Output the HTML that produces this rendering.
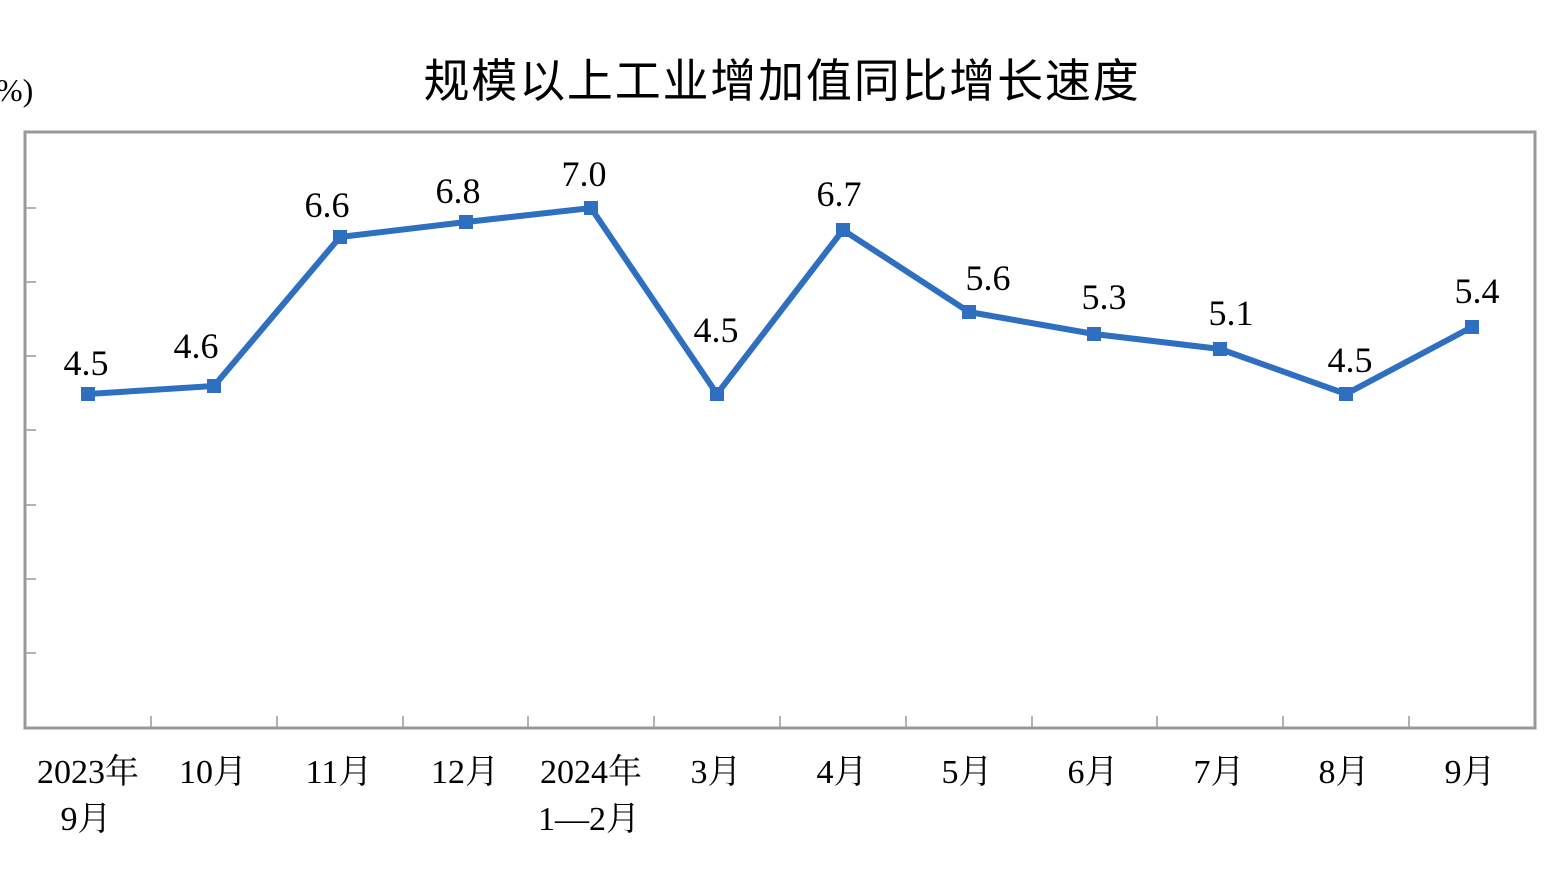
<!DOCTYPE html>
<html><head><meta charset="utf-8"><style>html,body{margin:0;padding:0;background:#fff}svg{display:block}</style></head>
<body>
<svg width="1545" height="869" xmlns="http://www.w3.org/2000/svg">
<text x="782" y="97" text-anchor="middle" font-family="'Noto Sans CJK SC','WenQuanYi Zen Hei',sans-serif" font-size="46" font-weight="400" letter-spacing="1.8" fill="#000">规模以上工业增加值同比增长速度</text>
<text x="-4" y="101" font-family="'Liberation Serif',serif" font-size="32" fill="#000">%)</text>
<rect x="25" y="132" width="1510" height="596" fill="none" stroke="#999" stroke-width="3"/>
<g stroke="#999" stroke-width="1.5">
<line x1="25" y1="208" x2="36" y2="208"/><line x1="25" y1="282" x2="36" y2="282"/><line x1="25" y1="356" x2="36" y2="356"/><line x1="25" y1="430" x2="36" y2="430"/><line x1="25" y1="505" x2="36" y2="505"/><line x1="25" y1="579" x2="36" y2="579"/><line x1="25" y1="653" x2="36" y2="653"/>
<line x1="151" y1="716" x2="151" y2="728"/><line x1="277" y1="716" x2="277" y2="728"/><line x1="403" y1="716" x2="403" y2="728"/><line x1="528" y1="716" x2="528" y2="728"/><line x1="654" y1="716" x2="654" y2="728"/><line x1="780" y1="716" x2="780" y2="728"/><line x1="906" y1="716" x2="906" y2="728"/><line x1="1032" y1="716" x2="1032" y2="728"/><line x1="1157" y1="716" x2="1157" y2="728"/><line x1="1283" y1="716" x2="1283" y2="728"/><line x1="1409" y1="716" x2="1409" y2="728"/>
</g>
<polyline fill="none" stroke="#2e6fc0" stroke-width="6" stroke-linejoin="miter" points="88,394 214,386 340,237 466,222 591,208 717,394 843,230 969,312 1094,334 1220,349 1346,394 1472,327"/>
<g fill="#2e6fc0">
<rect x="81" y="387" width="14" height="14"/><rect x="207" y="379" width="14" height="14"/><rect x="333" y="230" width="14" height="14"/><rect x="459" y="215" width="14" height="14"/><rect x="584" y="201" width="14" height="14"/><rect x="710" y="387" width="14" height="14"/><rect x="836" y="223" width="14" height="14"/><rect x="962" y="305" width="14" height="14"/><rect x="1087" y="327" width="14" height="14"/><rect x="1213" y="342" width="14" height="14"/><rect x="1339" y="387" width="14" height="14"/><rect x="1465" y="320" width="14" height="14"/>
</g>
<g font-family="'Liberation Serif',serif" font-size="36" fill="#000" text-anchor="middle">
<text x="86" y="375">4.5</text><text x="196" y="358">4.6</text><text x="327" y="217">6.6</text><text x="458" y="203">6.8</text><text x="584" y="186">7.0</text><text x="716" y="342">4.5</text><text x="839" y="206">6.7</text><text x="988" y="290">5.6</text><text x="1104" y="309">5.3</text><text x="1231" y="325">5.1</text><text x="1350" y="372">4.5</text><text x="1477" y="303">5.4</text>
</g>
<g font-family="'Liberation Serif','Noto Serif CJK SC',serif" font-size="34" fill="#000" text-anchor="middle">
<text x="88" y="783">2023年</text><text x="86" y="830">9月</text>
<text x="213" y="783">10月</text><text x="339" y="783">11月</text><text x="465" y="783">12月</text>
<text x="591" y="783">2024年</text><text x="589" y="830">1—2月</text>
<text x="716" y="783">3月</text><text x="842" y="783">4月</text><text x="967" y="783">5月</text><text x="1093" y="783">6月</text><text x="1219" y="783">7月</text><text x="1344" y="783">8月</text><text x="1470" y="783">9月</text>
</g>
</svg>
</body></html>
